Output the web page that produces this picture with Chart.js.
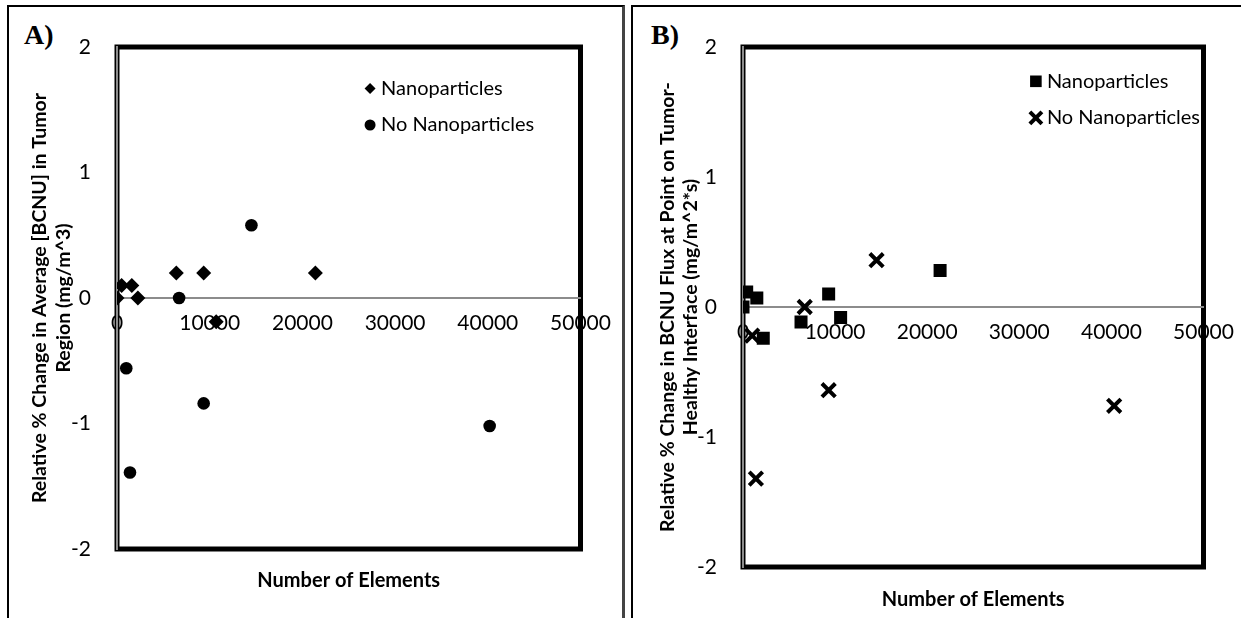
<!DOCTYPE html>
<html lang="en">
<head>
    <meta charset="UTF-8">
    <title>Relative % change vs number of elements</title>
    <script src="https://cdn.jsdelivr.net/npm/chart.js"></script>
    <style>
        body { margin: 0; width: 1241px; height: 618px; overflow: hidden; background: #fff; position: relative; }
        .panel { position: absolute; top: 5px; height: 640px; border-top: 2px solid #000; border-left: 2px solid #000; }
        #panelA { left: 7px; width: 613px; border-right: 3px solid #444; }
        #panelB { left: 631px; width: 640px; }
        .tag { position: absolute; top: 19px; font: bold 28px "Liberation Serif", serif; color: #000; }
        canvas { position: absolute; top: 7px; }
        #chartA { left: 9px; }
        #chartB { left: 634px; }
    </style>
</head>
<body>
    <div class="panel" id="panelA"></div>
    <div class="panel" id="panelB"></div>
    <div class="tag" style="left:24px">A)</div>
    <div class="tag" style="left:651px">B)</div>
    <canvas id="chartA" width="611" height="611"></canvas>
    <canvas id="chartB" width="607" height="611"></canvas>

    <script>
        // axis ticks (shared)
        const xTicks = [0, 10000, 20000, 30000, 40000, 50000];
        const yTicks = [-2, -1, 0, 1, 2];

        // A) average [BCNU] in tumor region
        const nanoA_x = [0, 500, 1600, 2250, 6400, 9350, 10700, 21400];
        const nanoA_y = [0, 0.1, 0.1, 0, 0.2, 0.2, -0.19, 0.2];
        const noNanoA_x = [1000, 1400, 6700, 9350, 14500, 40200];
        const noNanoA_y = [-0.56, -1.39, 0, -0.84, 0.58, -1.02];

        // B) BCNU flux at point on tumor-healthy interface
        const nanoB_x = [0, 400, 1500, 2200, 6300, 9300, 10600, 21400];
        const nanoB_y = [0, 0.115, 0.07, -0.24, -0.115, 0.1, -0.08, 0.28];
        const noNanoB_x = [1000, 1400, 6700, 9300, 14500, 40300];
        const noNanoB_y = [-0.22, -1.32, 0, -0.64, 0.36, -0.76];

        const seriesNames = ['Nanoparticles', 'No Nanoparticles'];

        Chart.defaults.font.family = 'Lato';
        Chart.defaults.color = '#000';

        const toPoints = (xs, ys) => xs.map((x, i) => ({ x: x, y: ys[i] }));

        // thick black box round the plot area
        const plotFrame = {
            id: 'plotFrame',
            beforeDraw(chart) {
                const { ctx, chartArea: a } = chart;
                ctx.save();
                ctx.strokeStyle = '#000';
                ctx.lineWidth = 5;
                ctx.strokeRect(a.left, a.top, a.width, a.height);
                ctx.restore();
            }
        };

        // legend drawn inside the plot, top right
        const insideLegend = {
            id: 'insideLegend',
            afterDatasetsDraw(chart, args, opts) {
                const { ctx, chartArea: a } = chart;
                const x = a.left + a.width * opts.x;
                let y = a.top + opts.y;
                chart.data.datasets.forEach(ds => {
                    ctx.save();
                    ctx.fillStyle = '#000';
                    ctx.strokeStyle = '#000';
                    ctx.lineWidth = ds.pointBorderWidth;
                    Chart.helpers.drawPoint(ctx, {
                        pointStyle: ds.pointStyle,
                        radius: ds.legendRadius,
                        borderWidth: ds.pointBorderWidth,
                        rotation: 0
                    }, x, y);
                    ctx.font = '20px Lato';
                    ctx.textBaseline = 'middle';
                    ctx.textAlign = 'left';
                    ctx.fillText(ds.label, x + 11, y);
                    ctx.restore();
                    y += opts.rowGap;
                });
            }
        };

        function makeChart(id, datasets, yTitle, box) {
            const ctx = document.getElementById(id).getContext('2d');
            return new Chart(ctx, {
                type: 'scatter',
                data: { datasets: datasets },
                plugins: [plotFrame, insideLegend],
                options: {
                    responsive: false,
                    animation: false,
                    layout: { padding: { left: 0, top: 40, right: box.right, bottom: 0 } },
                    plugins: {
                        legend: { display: false },
                        tooltip: { enabled: false },
                        insideLegend: { x: box.legendX, y: box.legendY, rowGap: 36.5 }
                    },
                    scales: {
                        x: {
                            type: 'linear',
                            position: 'bottom',
                            min: 0,
                            max: 50000,
                            ticks: { display: false },
                            grid: { display: false, drawTicks: false },
                            border: { display: false },
                            title: {
                                display: true,
                                text: 'Number of Elements',
                                font: { size: 20, weight: 'bold' },
                                padding: { top: 0, bottom: box.xTitlePad }
                            },
                            afterFit: s => { s.height = box.xHeight; s.paddingLeft = 0; s.paddingRight = 0; }
                        },
                        x2: {
                            type: 'linear',
                            position: { y: 0 },
                            min: 0,
                            max: 50000,
                            afterBuildTicks: s => { s.ticks = xTicks.map(v => ({ value: v })); },
                            ticks: { font: { size: 21 }, padding: 13, maxRotation: 0, autoSkip: false, callback: v => String(v) },
                            grid: { display: false, drawTicks: false },
                            border: { color: '#8c8c8c', width: 2 },
                            afterFit: s => { s.paddingLeft = 0; s.paddingRight = 0; }
                        },
                        y: {
                            type: 'linear',
                            position: 'left',
                            min: -2,
                            max: 2,
                            afterBuildTicks: s => { s.ticks = yTicks.map(v => ({ value: v })); },
                            ticks: { font: { size: 21 }, padding: 26, callback: v => String(v) },
                            grid: { display: false, drawTicks: false },
                            border: { color: '#8c8c8c', width: 2 },
                            title: {
                                display: true,
                                text: yTitle,
                                font: { size: 19.5, weight: 'bold', lineHeight: 1.2 },
                                padding: { top: box.yTitlePad, bottom: 0 }
                            },
                            afterFit: s => { s.width = box.yWidth; s.paddingTop = 0; s.paddingBottom = 0; }
                        }
                    }
                }
            });
        }

        makeChart('chartA', [
            {
                label: seriesNames[0],
                data: toPoints(nanoA_x, nanoA_y),
                pointStyle: 'rectRot',
                pointRadius: 7.5,
                pointBorderWidth: 0,
                backgroundColor: '#000',
                borderColor: '#000',
                legendRadius: 5.5
            },
            {
                label: seriesNames[1],
                data: toPoints(noNanoA_x, noNanoA_y),
                pointStyle: 'circle',
                pointRadius: 6.3,
                pointBorderWidth: 0,
                backgroundColor: '#000',
                borderColor: '#000',
                legendRadius: 5.5
            }
        ], ['Relative % Change in Average [BCNU] in Tumor', 'Region (mg/m^3)'],
        { right: 39.5, xHeight: 69, xTitlePad: 25, yWidth: 108, yTitlePad: 19.3, legendX: 0.546, legendY: 41.5 });

        makeChart('chartB', [
            {
                label: seriesNames[0],
                data: toPoints(nanoB_x, nanoB_y),
                pointStyle: 'rect',
                pointRadius: 9.2,
                pointBorderWidth: 0,
                backgroundColor: '#000',
                borderColor: '#000',
                legendRadius: 8.2
            },
            {
                label: seriesNames[1],
                data: toPoints(noNanoB_x, noNanoB_y),
                pointStyle: 'crossRot',
                pointRadius: 9.5,
                pointBorderWidth: 4,
                backgroundColor: '#000',
                borderColor: '#000',
                legendRadius: 8.5
            }
        ], ['Relative % Change in BCNU Flux at Point on Tumor-', 'Healthy Interface (mg/m^2*s)'],
        { right: 37.5, xHeight: 51, xTitlePad: 6, yWidth: 109, yTitlePad: 21.8, legendX: 0.636, legendY: 34.3 });
    </script>
</body>
</html>
